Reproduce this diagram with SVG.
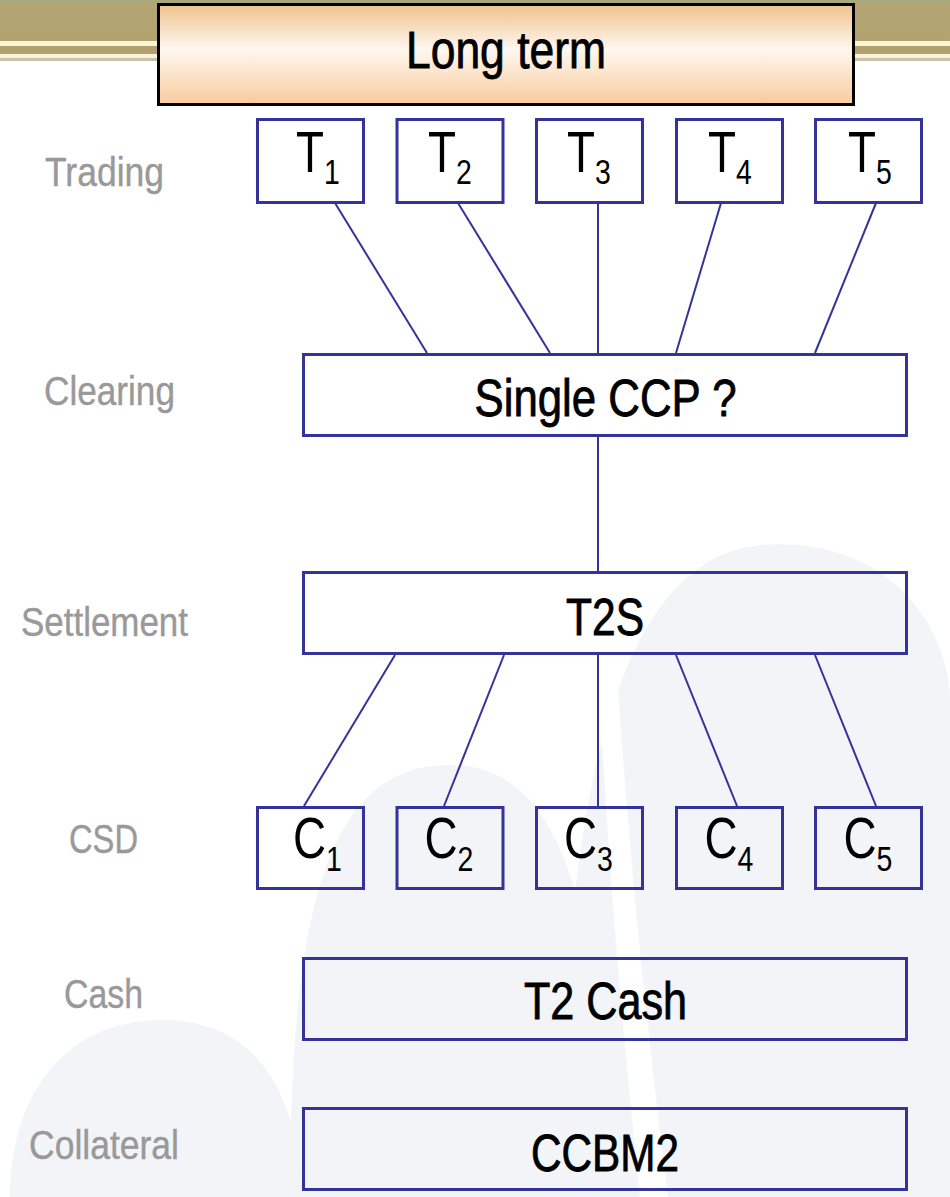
<svg xmlns="http://www.w3.org/2000/svg" width="950" height="1197" viewBox="0 0 950 1197">
<defs>
<linearGradient id="peach" x1="0" y1="0" x2="0" y2="1">
<stop offset="0" stop-color="#efc28c"/>
<stop offset="0.45" stop-color="#fff7f0"/>
<stop offset="1" stop-color="#f8cb9c"/>
</linearGradient>
<linearGradient id="olive" x1="0" y1="0" x2="0" y2="1">
<stop offset="0" stop-color="#a4aa80"/>
<stop offset="0.08" stop-color="#b3a674"/>
<stop offset="1" stop-color="#b0a370"/>
</linearGradient>
<style>
.box{fill:none;stroke:#333399;stroke-width:3}
.conn line{stroke:#333399;stroke-width:2}
.lbl{font-family:"Liberation Sans",Arial,sans-serif;font-size:40px;fill:#999999;stroke:#999999;stroke-width:0.4;text-anchor:middle}
.big{font-family:"Liberation Sans",Arial,sans-serif;font-size:51px;fill:#000000;stroke:#000000;stroke-width:0.8;text-anchor:middle}
.sym{font-family:"Liberation Sans",Arial,sans-serif;font-size:58px;fill:#000000}
.sub{font-size:36px}
.bg{fill:#f2f4f7}
</style>
</defs>
<rect width="950" height="1197" fill="#ffffff"/>
<g id="background">
<path class="bg" d="M560,1197 C560,820 610,560 760,545 C900,535 950,640 950,700 L950,1197 Z"/>
<path class="bg" d="M290,1197 C290,900 330,765 450,765 C560,765 600,900 615,1197 Z"/>
<path class="bg" d="M10,1197 C10,1100 60,1020 163,1020 C260,1020 300,1100 300,1197 Z"/>
<path fill="#ffffff" d="M600,700 C610,900 625,1050 640,1197 L668,1197 C650,1050 630,880 615,640 Z"/>
</g>
<g id="banner">
<rect x="0" y="0" width="950" height="41" fill="url(#olive)"/>
<rect x="0" y="41" width="950" height="5" fill="#fbf6d8"/>
<rect x="0" y="46" width="950" height="8" fill="#b3a070"/>
<rect x="0" y="54" width="950" height="4" fill="#f8f4d8"/>
<rect x="0" y="58" width="950" height="3" fill="#c9c2a8"/>
</g>
<g id="long-term">
<rect x="158.5" y="4.5" width="695" height="100" fill="url(#peach)" stroke="#000000" stroke-width="3"/>
<text class="big" x="506" y="68" textLength="200" lengthAdjust="spacingAndGlyphs">Long term</text>
</g>
<g id="labels">
<text class="lbl" x="104.5" y="186" textLength="119" lengthAdjust="spacingAndGlyphs">Trading</text>
<text class="lbl" x="109.5" y="405" textLength="131" lengthAdjust="spacingAndGlyphs">Clearing</text>
<text class="lbl" x="104.5" y="636" textLength="167" lengthAdjust="spacingAndGlyphs">Settlement</text>
<text class="lbl" x="103.5" y="853" textLength="69" lengthAdjust="spacingAndGlyphs">CSD</text>
<text class="lbl" x="103.5" y="1008" textLength="79" lengthAdjust="spacingAndGlyphs">Cash</text>
<text class="lbl" x="104" y="1159" textLength="150" lengthAdjust="spacingAndGlyphs">Collateral</text>
</g>
<g class="conn" id="connectors">
<line x1="335" y1="203" x2="427" y2="353"/>
<line x1="458" y1="203" x2="550" y2="353"/>
<line x1="598" y1="203" x2="598" y2="353"/>
<line x1="721" y1="203" x2="676" y2="353"/>
<line x1="876" y1="203" x2="815" y2="353"/>
<line x1="598" y1="437" x2="598" y2="571"/>
<line x1="395" y1="655" x2="304" y2="806"/>
<line x1="504" y1="655" x2="444" y2="806"/>
<line x1="598" y1="655" x2="598" y2="806"/>
<line x1="676" y1="655" x2="737" y2="806"/>
<line x1="815" y1="655" x2="876" y2="806"/>
</g>
<g id="T1"><rect class="box" x="257.5" y="119.5" width="106" height="83"/>
<text class="sym" transform="translate(296,172) scale(0.79,1)">T<tspan class="sub" dy="12">1</tspan></text></g>
<g id="T2"><rect class="box" x="397" y="119.5" width="106" height="83"/>
<text class="sym" transform="translate(428,172) scale(0.79,1)">T<tspan class="sub" dy="12">2</tspan></text></g>
<g id="T3"><rect class="box" x="536.5" y="119.5" width="106" height="83"/>
<text class="sym" transform="translate(567,172) scale(0.79,1)">T<tspan class="sub" dy="12">3</tspan></text></g>
<g id="T4"><rect class="box" x="676.5" y="119.5" width="106" height="83"/>
<text class="sym" transform="translate(708,172) scale(0.79,1)">T<tspan class="sub" dy="12">4</tspan></text></g>
<g id="T5"><rect class="box" x="815.5" y="119.5" width="106" height="83"/>
<text class="sym" transform="translate(848,172) scale(0.79,1)">T<tspan class="sub" dy="12">5</tspan></text></g>
<g id="CCP"><rect class="box" x="303.5" y="354.5" width="603" height="81"/>
<text class="big" x="605.5" y="416" textLength="262" lengthAdjust="spacingAndGlyphs">Single CCP ?</text></g>
<g id="T2S"><rect class="box" x="303.5" y="572.5" width="603" height="81"/>
<text class="big" x="605" y="635" textLength="78" lengthAdjust="spacingAndGlyphs">T2S</text></g>
<g id="C1"><rect class="box" x="257.5" y="807.5" width="106" height="81"/>
<text class="sym" transform="translate(293,858) scale(0.79,1)">C<tspan class="sub" dy="13">1</tspan></text></g>
<g id="C2"><rect class="box" x="397" y="807.5" width="106" height="81"/>
<text class="sym" transform="translate(424.5,858) scale(0.79,1)">C<tspan class="sub" dy="13">2</tspan></text></g>
<g id="C3"><rect class="box" x="536.5" y="807.5" width="106" height="81"/>
<text class="sym" transform="translate(564,858) scale(0.79,1)">C<tspan class="sub" dy="13">3</tspan></text></g>
<g id="C4"><rect class="box" x="676.5" y="807.5" width="106" height="81"/>
<text class="sym" transform="translate(704.5,858) scale(0.79,1)">C<tspan class="sub" dy="13">4</tspan></text></g>
<g id="C5"><rect class="box" x="815.5" y="807.5" width="106" height="81"/>
<text class="sym" transform="translate(843.5,858) scale(0.79,1)">C<tspan class="sub" dy="13">5</tspan></text></g>
<g id="T2Cash"><rect class="box" x="303.5" y="958.5" width="603" height="81"/>
<text class="big" x="605.5" y="1019" textLength="163" lengthAdjust="spacingAndGlyphs">T2 Cash</text></g>
<g id="CCBM2"><rect class="box" x="303.5" y="1108.5" width="603" height="81"/>
<text class="big" x="605" y="1171" textLength="148" lengthAdjust="spacingAndGlyphs">CCBM2</text></g>
</svg>
